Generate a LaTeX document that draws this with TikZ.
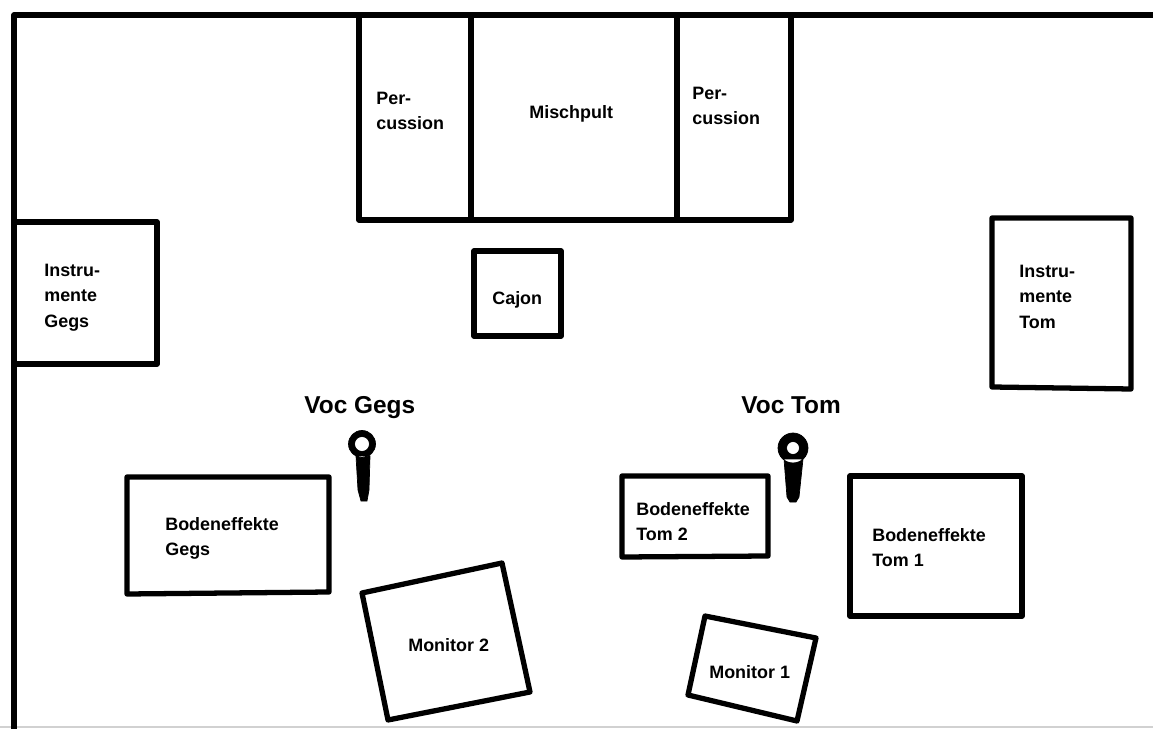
\documentclass[tikz,border=0pt]{standalone}
\usepackage{fontspec}
\setmainfont{Liberation Sans}
\begin{document}
\begin{tikzpicture}[
        x=0.02cm, y=-0.02cm,
        every node/.style={inner sep=0pt, anchor=north west, align=left},
        lbl/.style={font=\fontsize{10.2}{14.4}\selectfont\bfseries},
        voc/.style={font=\fontsize{13.9}{16}\selectfont\bfseries},
        wall/.style={line width=3pt, line cap=round, line join=round},
        mic/.style={fill=black, even odd rule},
    ]
    \useasboundingbox (0,0) rectangle (1153,729);

    % room
    \draw[black!18, line width=1pt] (0,727) -- (1153,727);
    \draw[wall] (1153,15) -- (14,15) -- (14,729);

    % desk
    \draw[wall] (359,15) -- (359,220) -- (791,220) -- (791,15);
    \draw[wall] (471,15) -- (471,220);
    \draw[wall] (677,15) -- (677,220);

    % boxes
    \draw[wall] (14,222) -- (157,222) -- (157,364) -- (14,364);
    \draw[wall] (474,251) -- (561,251) -- (561,336) -- (474,336) -- cycle;
    \draw[wall] (992,218) -- (1131,218) -- (1131,389) -- (992,387) -- cycle;
    \draw[wall] (127,477) -- (329,477) -- (329,592) -- (127,594) -- cycle;
    \draw[wall] (622,476) -- (768,476) -- (768,556) -- (622,557) -- cycle;
    \draw[wall] (850,476) -- (1022,476) -- (1022,616) -- (850,616) -- cycle;
    \draw[wall] (362,593) -- (502,563) -- (530,692) -- (388,720) -- cycle;
    \draw[wall] (705,616) -- (816,638) -- (797,721) -- (688,695) -- cycle;

    % mics
    \draw[mic] (362,444) circle (13.5) (362,444) circle (7.5)
        (356,456) -- (370,456) -- (369,490) -- (367,501) -- (361,501) -- (358,490) -- cycle;
    \draw[mic] (793,448) circle (15) (793,448) circle (6.5)
        (784,459) -- (803,459) -- (799,497) -- (796,502) -- (790,502) -- (787,497) -- cycle;

    % labels
    \node[voc](vocgegs) at (304,396) {Voc Gegs};
    \node[voc](voctom) at (741,396) {Voc Tom};
    \node[lbl](perc1) at (376,92) {Per-\\cussion};
    \node[lbl](misch) at (529,105) {Mischpult};
    \node[lbl](perc2) at (692,87) {Per-\\cussion};
    \node[lbl](instgegs) at (44,264) {Instru-\\mente\\Gegs};
    \node[lbl](cajon) at (492,291) {Cajon};
    \node[lbl](insttom) at (1019,265) {Instru-\\mente\\Tom};
    \node[lbl](bodgegs) at (165,517) {Bodeneffekte\\Gegs};
    \node[lbl](bodtom2) at (636,502) {Bodeneffekte\\Tom 2};
    \node[lbl](bodtom1) at (872,528) {Bodeneffekte\\Tom 1};
    \node[lbl](mon2) at (408,638) {Monitor 2};
    \node[lbl](mon1) at (709,665) {Monitor 1};
\end{tikzpicture}
\end{document}
